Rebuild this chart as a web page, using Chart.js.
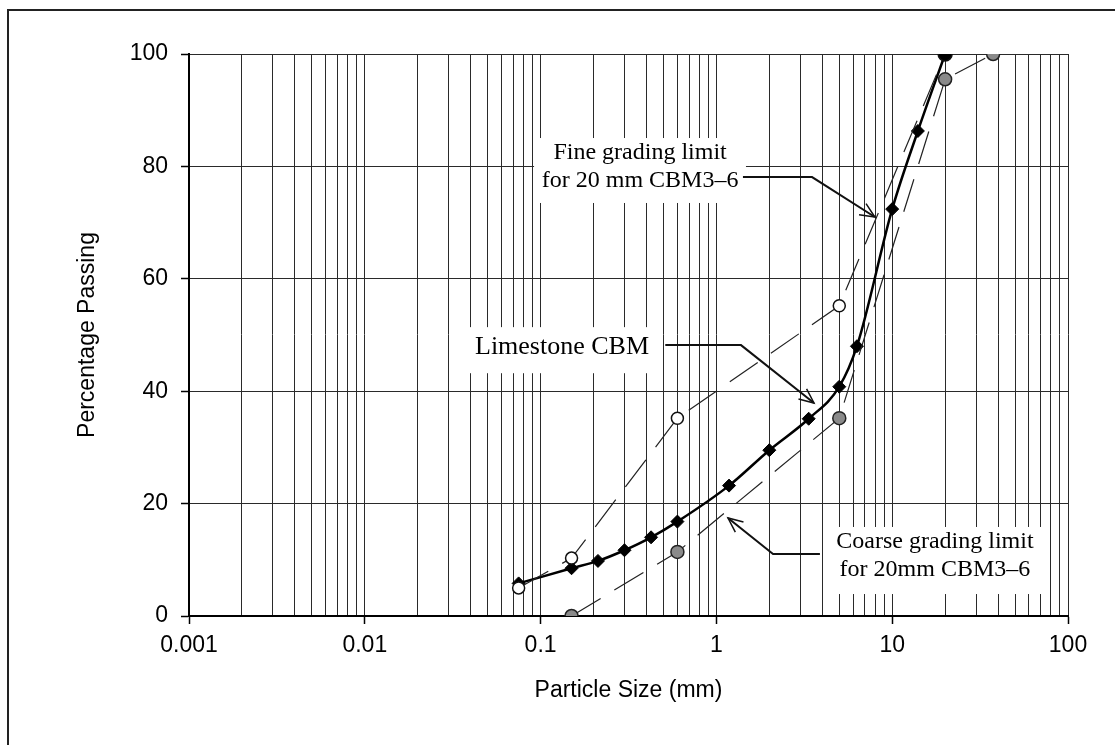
<!DOCTYPE html>
<html><head><meta charset="utf-8">
<script src="https://cdn.jsdelivr.net/npm/chart.js@4/dist/chart.umd.min.js"></script>
<style>html,body{margin:0;padding:0;background:#fff}canvas{display:block}</style>
</head><body>
<canvas id="c" width="1115" height="745"></canvas>
<script>
// ---- data ----
const limestoneSize = [0.075, 0.15, 0.212, 0.3, 0.425, 0.6, 1.18, 2, 3.35, 5, 6.3, 10, 14, 20];
const limestonePass = [5.8, 8.5, 9.8, 11.7, 14.0, 16.8, 23.2, 29.5, 35.1, 40.8, 48.0, 72.4, 86.3, 100];
const fineSize = [0.075, 0.15, 0.6, 5, 20];
const finePass = [5.0, 10.3, 35.2, 55.2, 100];
const coarseSize = [0.15, 0.6, 5, 20, 37.5];
const coarsePass = [0, 11.4, 35.2, 95.5, 100];
const xMajorTicks = [0.001, 0.01, 0.1, 1, 10, 100];
const xTickLabels = ['0.001', '0.01', '0.1', '1', '10', '100'];
const yTickValues = [0, 20, 40, 60, 80, 100];
const xTitle = 'Particle Size (mm)';
const yTitle = 'Percentage Passing';

function pts(xs, ys) { return xs.map((x, i) => ({ x: x, y: ys[i] })); }

const xGridTicks = [];
for (let d = 0; d < xMajorTicks.length - 1; d++) {
  for (let m = 1; m <= 9; m++) xGridTicks.push(+(xMajorTicks[d] * m).toPrecision(3));
}
xGridTicks.push(xMajorTicks[xMajorTicks.length - 1]);

// annotations (positions in data units)
const annotations = [
  { lines: ['Fine grading limit', 'for 20 mm CBM3\u20136'], tx: 0.368, ty: [82.4, 77.4], size: 24,
    box: [0.0918, 1.473, 85.05, 73.49], arrow: [[1.416, 78.1], [3.50, 78.1], [7.97, 71.0]] },
  { lines: ['Limestone CBM'], tx: 0.1324, ty: [47.9], size: 26,
    box: [0.0379, 0.467, 51.4, 43.2], arrow: [[0.512, 48.2], [1.38, 48.2], [3.59, 37.9]] },
  { lines: ['Coarse grading limit', 'for 20mm CBM3\u20136'], tx: 17.5, ty: [13.17, 8.19], size: 24,
    box: [4.25, 71.0, 15.84, 3.91], arrow: [[3.88, 11.03], [2.10, 11.03], [1.164, 17.44]] }
];

const annPlugin = {
  id: 'ann',
  beforeDraw(chart) {
    const c = chart.ctx;
    c.save();
    c.fillStyle = '#fff';
    c.fillRect(0, 0, chart.width, chart.height);
    c.strokeStyle = '#222';
    c.lineWidth = 2;
    c.beginPath();
    c.moveTo(8, chart.height);
    c.lineTo(8, 10);
    c.lineTo(chart.width, 10);
    c.stroke();
    c.restore();
  },
  beforeDatasetsDraw(chart) {
    const c = chart.ctx, xs = chart.scales.x, ys = chart.scales.y;
    c.save();
    c.fillStyle = '#fff';
    annotations.forEach(a => {
      const x1 = xs.getPixelForValue(a.box[0]), x2 = xs.getPixelForValue(a.box[1]);
      const y1 = ys.getPixelForValue(a.box[2]), y2 = ys.getPixelForValue(a.box[3]);
      c.fillRect(x1, y1, x2 - x1, y2 - y1);
    });
    c.restore();
  },
  afterDatasetsDraw(chart) {
    const c = chart.ctx, xs = chart.scales.x, ys = chart.scales.y;
    c.save();
    c.fillStyle = '#000';
    c.strokeStyle = '#111';
    c.textAlign = 'center';
    c.textBaseline = 'middle';
    annotations.forEach(a => {
      c.font = a.size + 'px "Liberation Serif", "Times New Roman", serif';
      const tx = xs.getPixelForValue(a.tx);
      a.lines.forEach((l, i) => c.fillText(l, tx, ys.getPixelForValue(a.ty[i])));
      const p = a.arrow.map(q => [xs.getPixelForValue(q[0]), ys.getPixelForValue(q[1])]);
      c.lineWidth = 2;
      c.beginPath();
      c.moveTo(p[0][0], p[0][1]);
      for (let i = 1; i < p.length; i++) c.lineTo(p[i][0], p[i][1]);
      c.stroke();
      const tip = p[p.length - 1], prev = p[p.length - 2];
      const ang = Math.atan2(tip[1] - prev[1], tip[0] - prev[0]);
      const L = 16, w = 0.42;
      c.lineWidth = 1.5;
      c.beginPath();
      c.moveTo(tip[0] - L * Math.cos(ang - w), tip[1] - L * Math.sin(ang - w));
      c.lineTo(tip[0], tip[1]);
      c.lineTo(tip[0] - L * Math.cos(ang + w), tip[1] - L * Math.sin(ang + w));
      c.stroke();
    });
    c.restore();
  }
};

const sansFont = { family: '"Liberation Sans", Arial, sans-serif', size: 23 };
const gridColor = '#2a2a2a';

new Chart(document.getElementById('c'), {
  type: 'line',
  data: {
    datasets: [
      { label: 'Coarse grading limit', data: pts(coarseSize, coarsePass),
        borderColor: '#222', borderWidth: 1.2, borderDash: [34, 16],
        pointStyle: 'circle', pointRadius: 6.5, pointBackgroundColor: '#8a8a8a',
        pointBorderColor: '#222', pointBorderWidth: 1.5, tension: 0 },
      { label: 'Fine grading limit', data: pts(fineSize, finePass),
        borderColor: '#222', borderWidth: 1.2, borderDash: [34, 16],
        pointStyle: 'circle', pointRadius: fineSize.map((s, i) => i === fineSize.length - 1 ? 7 : 6),
        pointBackgroundColor: fineSize.map((s, i) => i === fineSize.length - 1 ? '#000' : '#fff'),
        pointBorderColor: '#111', pointBorderWidth: 1.5, tension: 0 },
      { label: 'Limestone CBM', data: pts(limestoneSize, limestonePass),
        borderColor: '#000', borderWidth: 2.5,
        pointStyle: 'rectRot', pointRadius: 6.5, pointBackgroundColor: '#000',
        pointBorderColor: '#000', pointBorderWidth: 1, cubicInterpolationMode: 'monotone' }
    ]
  },
  options: {
    responsive: false,
    animation: false,
    devicePixelRatio: 1,
    layout: { padding: { left: 70, top: 54, right: 47, bottom: 37 } },
    plugins: { legend: { display: false }, tooltip: { enabled: false } },
    scales: {
      x: {
        type: 'logarithmic', min: xMajorTicks[0], max: xMajorTicks[xMajorTicks.length - 1],
        afterBuildTicks: s => { s.ticks = xGridTicks.map(v => ({ value: v })); },
        afterFit: s => { s.height = 92; },
        ticks: {
          autoSkip: false, maxRotation: 0, minRotation: 0, padding: 8, color: '#000', font: sansFont,
          callback: v => { const i = xMajorTicks.findIndex(m => Math.abs(m - v) / m < 1e-6); return i >= 0 ? xTickLabels[i] : ''; }
        },
        grid: {
          color: gridColor, lineWidth: 1, tickLength: 8, tickWidth: 1.5,
          tickColor: ctx => (ctx.tick && xMajorTicks.some(m => Math.abs(m - ctx.tick.value) / m < 1e-6)) ? '#000' : 'rgba(0,0,0,0)'
        },
        border: { display: true, color: '#000', width: 2 },
        title: { display: true, text: xTitle, color: '#000', font: sansFont, padding: { top: 4, bottom: 4 } }
      },
      y: {
        min: 0, max: 100,
        afterBuildTicks: s => { s.ticks = yTickValues.map(v => ({ value: v })); },
        afterFit: s => { s.width = 119; },
        ticks: { padding: 13, color: '#000', font: sansFont },
        grid: { color: gridColor, lineWidth: 1, tickLength: 8, tickColor: '#000', tickWidth: 1.5 },
        border: { display: true, color: '#000', width: 2 },
        title: { display: true, text: yTitle, color: '#000', font: sansFont, padding: { top: 4, bottom: 4 } }
      }
    }
  },
  plugins: [annPlugin]
});
</script>
</body></html>
